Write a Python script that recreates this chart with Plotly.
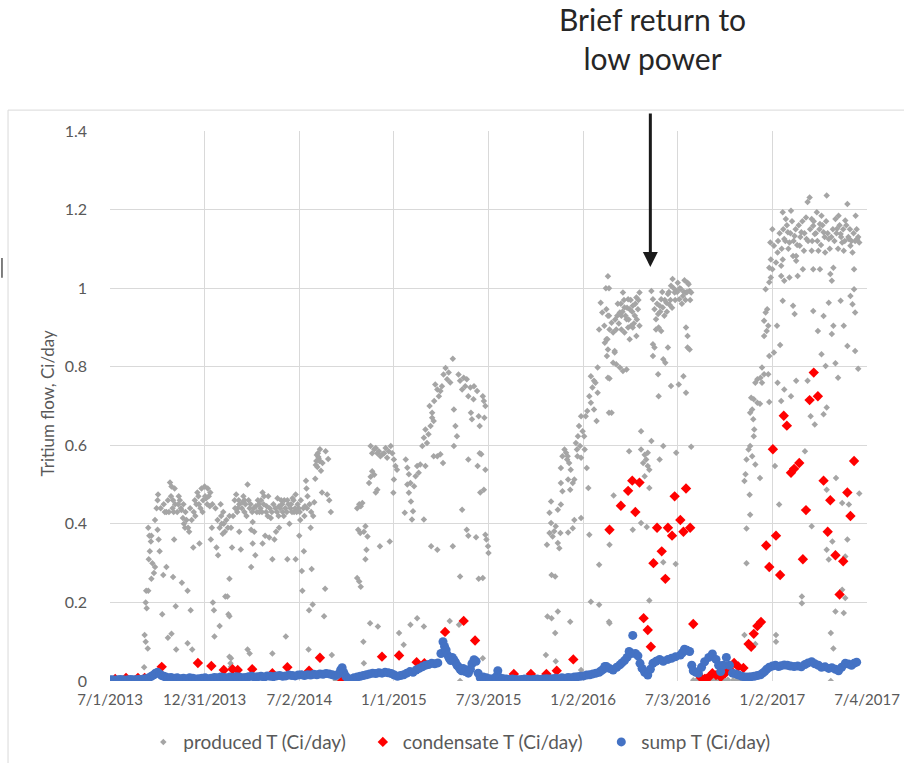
import plotly.graph_objects as go

# x values are days since 7/1/2013
tick_days = [0, 183, 366, 549, 732, 915, 1098, 1281, 1464]
tick_labels = ["7/1/2013", "12/31/2013", "7/2/2014", "1/1/2015", "7/3/2015",
               "1/2/2016", "7/3/2016", "1/2/2017", "7/4/2017"]
y_ticks = [0, 0.2, 0.4, 0.6, 0.8, 1.0, 1.2, 1.4]
y_tick_labels = ["0", "0.2", "0.4", "0.6", "0.8", "1", "1.2", "1.4"]

produced_2013 = [(66,0.035),(67,0.117),(69,0.10),(73,0.083),(69,0.20),(71,0.185),(70,0.23),(74,0.23),(75,0.31),(77,0.33),(79,0.355),(80,0.37),(74,0.39),(76,0.37),(80,0.26),(82,0.30),(85,0.275),(87,0.29),(87,0.41),(90,0.44),(92,0.46),(93,0.475),(92,0.385),(94,0.36),(96,0.33),(101,0.17),(103,0.27),(106,0.43),(109,0.43),(112,0.46),(109,0.29),(112,0.11),(116,0.505),(119,0.495),(122,0.46),(123,0.43),(125,0.49),(119,0.12),(122,0.265),(124,0.36),(127,0.19),(128,0.08),(130,0.43),(132,0.45),(135,0.46),(138,0.435),(141,0.415),(139,0.25),(143,0.40),(145,0.39),(148,0.41),(150,0.096),(150,0.23),(151,0.39),(153,0.38),(156,0.18),(159,0.08),(161,0.34),(164,0.46),(165,0.42),(169,0.48),(172,0.45),(173,0.35),(177,0.49),(180,0.46),(183,0.495),(186,0.465),(189,0.49),(193,0.445),(195,0.36),(197,0.39),(199,0.20),(201,0.18),(202,0.113),(206,0.34),(209,0.32),(212,0.39),(212,0.14),(214,0.45),(215,0.42),(218,0.375),(220,0.40),(223,0.215),(227,0.215),(229,0.17),(231,0.062),(233,0.045),(234,0.036),
                 (98,0.44),(104,0.45),(114,0.43),(118,0.47),(121,0.44),(126,0.45),(133,0.47),(137,0.44),(142,0.45),(146,0.43),(155,0.44),(158,0.41),(162,0.43),(167,0.45),(171,0.47),(175,0.44),(179,0.43),(184,0.47),(188,0.45),(191,0.47),(194,0.48),(198,0.45),(204,0.44),(208,0.41),(216,0.40),(219,0.43),(222,0.38),(225,0.41),(228,0.39)]

produced_2014 = [(231,0.26),(231,0.165),(234,0.058),(231,0.42),(234,0.39),(236,0.34),(241,0.46),(244,0.475),(247,0.44),(250,0.38),(250,0.45),(253,0.335),(257,0.455),(260,0.46),(260,0.43),(266,0.50),(266,0.08),(270,0.07),(270,0.44),(273,0.29),(273,0.385),(276,0.405),(276,0.35),(279,0.38),(281,0.32),(282,0.445),(286,0.46),(289,0.43),(292,0.46),(295,0.48),(295,0.35),(298,0.47),(300,0.37),(303,0.445),(305,0.42),(308,0.365),(311,0.415),(314,0.31),(314,0.07),(318,0.36),(321,0.38),(324,0.465),(327,0.445),(327,0.39),(331,0.46),(334,0.43),(337,0.46),(340,0.113),(343,0.31),(343,0.46),(347,0.40),(350,0.45),(353,0.465),(356,0.43),(359,0.31),(359,0.475),(363,0.45),(366,0.37),(367,0.43),(369,0.46),(371,0.28),(372,0.23),(375,0.33),(377,0.445),(379,0.51),(380,0.49),(382,0.47),(384,0.08),(385,0.18),(388,0.39),(390,0.285),(392,0.195),(395,0.455),(397,0.515),(399,0.56),(401,0.545),(403,0.57),(406,0.59),(408,0.535),(410,0.48),(411,0.555),(414,0.165),(416,0.235),(417,0.585),(420,0.475),(422,0.565),(424,0.46),(427,0.43),(429,0.066),(400,0.575),(402,0.58),(404,0.565),(398,0.55),(405,0.56),(436,0.003),(441,0.002),(446,0.004),(452,0.003),
                 (238,0.42),(242,0.44),(246,0.43),(249,0.46),(255,0.44),(258,0.47),(262,0.45),(264,0.42),(268,0.46),(272,0.45),(275,0.43),(278,0.44),(284,0.43),(288,0.45),(291,0.44),(294,0.43),(297,0.45),(302,0.43),(306,0.47),(309,0.44),(313,0.43),(316,0.45),(320,0.44),(323,0.43),(326,0.42),(329,0.44),(333,0.45),(336,0.42),(339,0.44),(342,0.43),(345,0.45),(349,0.44),(352,0.43),(355,0.46),(358,0.44),(361,0.43),(365,0.44),(368,0.41),(374,0.44),(376,0.42),(381,0.44),(386,0.45),(389,0.43),(393,0.42)]

produced_2015 = [(478,0.44),(482,0.45),(485,0.445),(488,0.453),(480,0.385),(484,0.377),(494,0.394),(498,0.368),(491,0.38),(478,0.262),(485,0.24),(482,0.253),(490,0.10),(491,0.045),(494,0.31),(496,0.334),(501,0.504),(504,0.52),(507,0.534),(511,0.525),(514,0.48),(517,0.487),(504,0.598),(507,0.58),(511,0.59),(514,0.593),(517,0.58),(520,0.585),(523,0.572),(527,0.577),(530,0.58),(533,0.593),(536,0.568),(539,0.585),(543,0.598),(546,0.58),(549,0.564),(552,0.547),(548,0.479),(549,0.513),(555,0.538),(503,0.147),(518,0.139),(522,0.343),(541,0.355),(546,0.02),(559,0.122),(559,0.07),(568,0.092),(570,0.428),(572,0.564),(575,0.543),(578,0.526),(581,0.504),(575,0.50),(578,0.479),(582,0.457),(584,0.411),(586,0.432),(588,0.496),(591,0.521),(594,0.547),(597,0.53),(600,0.551),(581,0.143),(594,0.16),(607,0.139),(604,0.598),(607,0.619),(610,0.64),(613,0.606),(616,0.628),(620,0.649),(623,0.67),(626,0.662),(618,0.70),(623,0.683),(627,0.713),(629,0.755),(633,0.742),(636,0.725),(639,0.738),(642,0.75),(645,0.78),(649,0.797),(652,0.768),(655,0.785),(658,0.76),(663,0.82),(665,0.691),(668,0.649),(671,0.623),(665,0.598),(674,0.78),(677,0.764),(681,0.742),(684,0.772),(687,0.75),(690,0.768),(693,0.725),(697,0.747),(698,0.683),(700,0.666),(703,0.717),(704,0.75),(710,0.738),(713,0.674),(715,0.649),(607,0.411),(626,0.572),(633,0.572),(639,0.577),(644,0.555),(610,0.547),(621,0.343),(633,0.334),(663,0.343),(657,0.153),(675,0.143),(681,0.436),(690,0.385),(693,0.37),(708,0.366),(693,0.564),(711,0.547),(715,0.58),(716,0.48),(677,0.266),(713,0.26),(677,0.0),(721,0.725),(723,0.713),(726,0.70),(724,0.67),(726,0.538),(723,0.487),(726,0.372),(728,0.36),(731,0.343),(732,0.326),(721,0.262),(718,0.577),(721,0.058),(740,0.005),(760,0.01),(790,0.005),(820,0.004)]

produced_2016 = [(843,0.066),(846,0.164),(854,0.16),(861,0.122),(866,0.177),(862,0.05),(854,0.27),(861,0.266),(845,0.347),(850,0.377),(853,0.402),(856,0.368),(859,0.381),(862,0.394),(866,0.351),(869,0.338),(871,0.377),(850,0.428),(853,0.457),(866,0.436),(872,0.449),(872,0.504),(875,0.483),(872,0.542),(875,0.572),(879,0.589),(882,0.581),(885,0.572),(888,0.555),(891,0.538),(884,0.564),(886,0.513),(890,0.487),(895,0.504),(898,0.513),(904,0.572),(901,0.606),(903,0.589),(905,0.623),(909,0.598),(911,0.568),(907,0.649),(911,0.674),(914,0.636),(917,0.623),(920,0.674),(923,0.687),(918,0.589),(922,0.542),(925,0.491),(911,0.415),(895,0.389),(886,0.378),(927,0.725),(930,0.708),(933,0.747),(936,0.764),(939,0.759),(943,0.798),(943,0.734),(941,0.662),(930,0.776),(936,0.691),(946,0.895),(949,0.963),(952,0.938),(956,0.904),(959,1.0),(962,0.87),(965,0.93),(957,0.861),(961,0.827),(963,0.772),(965,0.683),(927,0.372),(946,0.296),(930,0.202),(946,0.194),(965,0.151),(890,0.151),(911,0.028),(898,0.41),
                 (963,1.03),(965,1.0),(960,0.946),(963,0.93),(966,0.895),(970,0.912),(960,0.87),(963,0.844),(973,0.887),(976,0.84),(979,0.895),(982,0.96),(986,0.938),(989,0.93),(992,0.989),(995,0.951),(999,0.921),(1002,0.972),(1005,0.946),(1008,0.904),(1011,0.955),(1015,0.93),(1018,0.976),(1021,0.946),(1024,0.989),(989,0.895),(995,0.887),(1002,0.90),(1005,0.87),(1011,0.90),(1018,0.878),(1024,0.904),(973,0.81),(979,0.806),(986,0.798),(992,0.789),(999,0.793),(976,0.836),(966,0.77),(970,0.683),(974,0.472),(966,0.347),(966,0.147),(1011,0.385),(1004,0.585),(1027,0.636),(1027,0.589),(1034,0.576),(1037,0.564),(1040,0.581),(1031,0.555),(1043,0.538),(1034,0.521),(1040,0.547),(1047,0.611),(1063,0.564),(1070,0.598),(1095,0.581),(1124,0.596),(1043,0.491),(1027,0.402),(1038,0.392),(1070,0.302),(1094,0.298),(1043,0.205),(1047,0.993),(1050,0.972),(1053,0.946),(1056,0.921),(1060,0.934),(1063,0.955),(1066,0.972),(1069,0.951),(1072,0.93),(1076,0.963),(1079,0.985),(1082,0.958),(1085,1.006),(1088,1.023),(1092,0.989),(1095,0.993),(1098,1.014),(1101,0.972),(1104,0.998),(1108,0.98),(1111,1.02),(1114,0.989),(1117,1.014),(1121,0.993),(1124,0.989),(1056,0.895),(1061,0.90),(1066,0.891),(1050,0.857),(1053,0.849),(1079,0.849),(1070,0.819),(1074,0.81),(1050,0.827),(1114,0.90),(1117,0.878),(1117,0.849),(1121,0.844),(1060,0.781),(1061,0.725),(1085,0.751),(1100,0.755),(1109,0.776),(1114,0.734),
                 (977,0.92),(981,0.93),(984,0.91),(988,0.96),(991,0.94),(994,0.97),(997,0.93),(1000,0.95),(1003,0.92),(1007,0.97),(1010,0.94),(1013,0.91),(1016,0.96),(1019,0.92),(1022,0.97),
                 (1058,0.96),(1064,0.94),(1068,0.99),(1073,0.97),(1077,0.94),(1081,0.99),(1084,0.97),(1087,0.95),(1090,1.0),(1093,0.97),(1097,0.99),(1102,1.0),(1106,0.96),(1110,0.99),(1113,0.97),(1116,0.99),(1119,1.01),(1122,0.97),
                 (1128,0.002),(1135,0.003),(1142,0.002),(1150,0.003),(1158,0.002),(1165,0.003),(1172,0.002),(1180,0.003),(1188,0.002),(1195,0.003)]

produced_2017 = [(1231,0.30),(1231,0.388),(1238,0.423),(1237,0.474),(1227,0.509),(1229,0.526),(1231,0.564),(1235,0.589),(1238,0.598),(1242,0.572),(1248,0.551),(1257,0.517),(1245,0.623),(1246,0.64),(1244,0.666),(1238,0.683),(1242,0.691),(1240,0.721),(1245,0.717),(1252,0.708),(1257,0.706),(1248,0.759),(1252,0.768),(1258,0.772),(1261,0.759),(1265,0.781),(1273,0.781),(1275,0.71),(1261,0.798),(1275,0.827),(1284,0.836),(1296,0.855),(1265,0.878),(1270,0.891),(1265,0.917),(1268,0.938),(1271,0.946),(1273,0.904),(1268,0.997),(1275,1.015),(1278,1.027),(1281,1.048),(1275,1.052),(1278,1.073),(1277,1.116),(1281,1.15),(1284,1.108),(1288,1.065),(1291,1.091),(1298,1.057),(1301,1.073),(1304,1.125),(1301,1.193),(1307,1.176),(1311,1.142),(1314,1.116),(1317,1.197),(1321,1.082),(1324,1.133),(1327,1.07),(1330,1.031),(1334,1.108),(1337,1.142),(1340,1.048),(1342,1.095),(1347,1.125),(1349,1.219),(1353,1.231),(1357,1.176),(1360,1.159),(1363,1.138),(1367,1.193),(1370,1.095),(1373,1.163),(1376,1.184),(1380,1.142),(1383,1.091),(1386,1.236),(1390,1.125),(1393,1.036),(1396,1.019),(1399,1.052),(1403,1.176),(1406,1.151),(1409,1.184),(1413,1.138),(1416,1.116),(1419,1.095),(1422,1.172),(1426,1.214),(1429,1.125),(1432,1.108),(1436,1.091),(1439,0.997),(1442,1.184),(1445,1.125),(1449,1.116),(1357,1.095),(1360,1.048),(1373,1.048),(1314,1.027),(1304,1.019),(1298,1.031),(1327,1.082),(1301,0.968),(1321,0.955),(1324,0.934),(1360,0.942),(1380,0.929),(1390,0.963),(1369,0.891),(1396,0.883),(1399,0.904),(1419,0.904),(1432,0.98),(1436,0.959),(1441,0.938),(1413,0.968),(1290,0.904),(1376,0.832),(1384,0.802),(1403,0.809),(1408,0.772),(1447,0.795),(1426,0.853),(1441,0.84),(1439,1.048),(1291,0.759),(1304,0.742),(1317,0.725),(1327,0.764),(1298,0.713),(1349,0.764),(1355,0.674),(1363,0.653),(1380,0.679),(1386,0.696),(1344,0.585),(1357,0.394),(1386,0.487),(1404,0.517),(1416,0.453),(1429,0.449),(1449,0.477),(1397,0.355),(1386,0.334),(1390,0.309),(1426,0.36),(1422,0.317),(1422,0.211),(1416,0.232),(1403,0.177),(1419,0.173),(1394,0.122),(1399,0.083),(1394,0.0),(1338,0.215),(1338,0.198),(1294,0.449),(1286,0.547),(1227,0.117),(1248,0.094),(1288,0.117),(1288,0.10),(1205,0.002),(1212,0.003),(1219,0.002),
                 (1292,1.12),(1295,1.14),(1299,1.10),(1302,1.15),(1306,1.12),(1309,1.16),(1312,1.10),(1316,1.14),(1319,1.17),(1322,1.12),(1326,1.15),(1329,1.11),(1332,1.16),(1335,1.13),(1339,1.17),(1343,1.14),(1346,1.18),(1350,1.12),(1354,1.15),(1358,1.12),(1361,1.17),(1365,1.14),(1368,1.12),(1372,1.15),(1375,1.11),(1378,1.16),(1382,1.13),(1385,1.17),(1388,1.14),(1392,1.1),(1395,1.13),(1398,1.15),(1401,1.12),(1405,1.14),(1408,1.1),(1411,1.16),(1414,1.13),(1418,1.15),(1421,1.12),(1424,1.16),(1428,1.13),(1431,1.15),(1434,1.12),(1438,1.14),(1441,1.12),(1444,1.15),(1447,1.13)]

condensate = [(10,0.005),(31,0.008),(54,0.008),(67,0.008),(100,0.036),(170,0.046),(196,0.038),(220,0.028),(237,0.03),(247,0.028),(275,0.03),(314,0.02),(343,0.035),(385,0.026),(406,0.059),(449,0.0),(526,0.062),(559,0.065),(593,0.048),(608,0.045),(648,0.125),(684,0.153),(706,0.103),(781,0.018),(814,0.018),(844,0.018),(864,0.026),(896,0.055),(966,0.385),(988,0.446),(1002,0.484),(1010,0.51),(1024,0.505),(1016,0.43),(1058,0.39),(1079,0.39),(1087,0.37),(1092,0.47),(1114,0.49),(1103,0.41),(1109,0.38),(1122,0.39),(1067,0.33),(1051,0.30),(1074,0.26),(1032,0.16),(1040,0.13),(1046,0.087),(1128,0.145),(1143,0.008),(1150,0.005),(1153,0.006),(1160,0.012),(1165,0.02),(1172,0.015),(1181,0.01),(1190,0.02),(1198,0.03),(1207,0.046),(1215,0.037),(1225,0.033),(1235,0.094),(1240,0.087),(1245,0.12),(1252,0.14),(1259,0.15),(1269,0.345),(1275,0.29),(1282,0.59),(1288,0.37),(1296,0.27),(1303,0.675),(1309,0.65),(1317,0.53),(1323,0.54),(1333,0.555),(1340,0.31),(1346,0.435),(1353,0.715),(1369,0.725),(1361,0.785),(1380,0.51),(1388,0.38),(1393,0.46),(1403,0.32),(1411,0.22),(1418,0.305),(1426,0.48),(1432,0.42),(1439,0.56)]

sump = [(0,0.003),(5,0.003),(10,0.002),(15,0.003),(20,0.004),(25,0.003),(30,0.002),(35,0.003),(40,0.004),(45,0.003),(50,0.003),(55,0.004),(60,0.003),(65,0.005),(70,0.006),(75,0.008),(80,0.012),(85,0.016),(88,0.02),(92,0.022),(96,0.018),(100,0.014),(104,0.012),(108,0.01),(112,0.008),(118,0.009),(124,0.007),(130,0.008),(136,0.006),(142,0.007),(148,0.006),(154,0.008),(160,0.007),(166,0.005),(172,0.006),(178,0.007),(184,0.008),(190,0.006),(196,0.007),(202,0.009),(208,0.008),(214,0.01),(220,0.009),(226,0.008),(232,0.01),(238,0.009),(244,0.011),(250,0.01),(256,0.008),(262,0.009),(268,0.011),(274,0.012),(280,0.01),(286,0.011),(292,0.012),(298,0.01),(304,0.013),(310,0.012),(316,0.011),(322,0.013),(328,0.014),(334,0.012),(340,0.013),(346,0.015),(352,0.014),(358,0.013),(364,0.015),(370,0.016),(376,0.014),(382,0.016),(388,0.015),(394,0.017),(400,0.016),(406,0.018),(412,0.017),(418,0.019),(424,0.018),(430,0.016),(436,0.014),(442,0.018),(446,0.028),(449,0.034),(452,0.022),(456,0.012),(460,0.006),(464,0.004),(468,0.006),(472,0.008),(478,0.01),(484,0.012),(490,0.014),(496,0.016),(502,0.018),(508,0.02),(514,0.019),(520,0.021),(526,0.02),(532,0.022),(538,0.021),(544,0.019),(550,0.015),(556,0.012),(562,0.014),(568,0.016),(574,0.02),(580,0.024),(586,0.022),(592,0.028),(598,0.032),(604,0.036),(610,0.04),(616,0.042),(622,0.045),(628,0.044),(634,0.046),(640,0.07),(644,0.1),(647,0.088),(650,0.079),(653,0.066),(656,0.058),(659,0.052),(662,0.06),(665,0.054),(668,0.048),(671,0.04),(674,0.036),(677,0.03),(680,0.026),(683,0.032),(687,0.024),(690,0.028),(693,0.02),(697,0.03),(700,0.044),(704,0.054),(708,0.05),(712,0.02),(716,0.008),(722,0.01),(728,0.008),(734,0.006),(740,0.005),(746,0.01),(750,0.026),(754,0.008),(760,0.006),(766,0.005),(772,0.004),(778,0.005),(784,0.004),(790,0.003),(796,0.004),(802,0.005),(808,0.004),(814,0.003),(820,0.004),(826,0.005),(832,0.004),(838,0.005),(844,0.006),(850,0.005),(856,0.006),(862,0.007),(868,0.006),(874,0.008),(880,0.007),(886,0.009),(892,0.008),(898,0.01),(904,0.011),(910,0.012),(916,0.013),(922,0.015),(928,0.016),(934,0.018),(940,0.02),(946,0.022),(950,0.026),(954,0.03),(957,0.037),(960,0.037),(966,0.032),(973,0.028),(980,0.035),(986,0.041),(990,0.046),(995,0.052),(1000,0.06),(1004,0.075),(1008,0.07),(1011,0.116),(1016,0.07),(1021,0.064),(1025,0.045),(1029,0.032),(1034,0.022),(1040,0.015),(1045,0.03),(1050,0.045),(1056,0.05),(1063,0.055),(1070,0.05),(1079,0.055),(1086,0.058),(1094,0.062),(1103,0.066),(1107,0.072),(1111,0.081),(1116,0.078),(1121,0.075),(1125,0.04),(1128,0.026),(1133,0.022),(1138,0.02),(1144,0.035),(1150,0.049),(1158,0.06),(1165,0.069),(1172,0.055),(1177,0.04),(1181,0.024),(1186,0.04),(1192,0.06),(1198,0.04),(1204,0.02),(1210,0.018),(1216,0.015),(1222,0.012),(1228,0.01),(1234,0.01),(1240,0.011),(1246,0.012),(1252,0.014),(1258,0.016),(1262,0.02),(1266,0.024),(1270,0.03),(1275,0.035),(1281,0.038),(1287,0.04),(1293,0.037),(1298,0.039),(1304,0.041),(1310,0.04),(1316,0.038),(1323,0.037),(1330,0.038),(1337,0.036),(1344,0.042),(1350,0.046),(1357,0.049),(1363,0.044),(1370,0.04),(1376,0.035),(1383,0.036),(1390,0.032),(1396,0.034),(1403,0.03),(1409,0.026),(1415,0.035),(1422,0.045),(1428,0.043),(1434,0.04),(1439,0.045),(1444,0.048)]

produced = produced_2013 + produced_2014 + produced_2015 + produced_2016 + produced_2017

FONT = "Lato"
TXT = "#595959"

fig = go.Figure()
fig.add_trace(go.Scatter(
    x=[p[0] for p in produced], y=[p[1] for p in produced], mode="markers",
    name="produced T (Ci/day)", legend="legend",
    marker=dict(symbol="diamond", size=5, color="#a5a5a5", line=dict(width=0))))
fig.add_trace(go.Scatter(
    x=[p[0] for p in condensate], y=[p[1] for p in condensate], mode="markers",
    name="condensate T (Ci/day)", legend="legend2",
    marker=dict(symbol="diamond", size=8, color="#ff0000", line=dict(width=0))))
fig.add_trace(go.Scatter(
    x=[p[0] for p in sump], y=[p[1] for p in sump], mode="markers",
    name="sump T (Ci/day)", legend="legend3",
    marker=dict(symbol="circle", size=9, color="#4472c4", line=dict(width=0))))

leg_common = dict(orientation="h", xanchor="left", y=-0.111, yanchor="middle",
                  font=dict(size=19, color=TXT, family=FONT), itemsizing="trace",
                  bgcolor="rgba(0,0,0,0)", itemwidth=30)

fig.update_layout(
    width=904, height=763,
    margin=dict(l=110, r=37, t=131, b=82, autoexpand=False),
    paper_bgcolor="white", plot_bgcolor="white",
    font=dict(family=FONT, color=TXT, size=15),
    showlegend=True,
    legend=dict(x=0.044, **leg_common),
    legend2=dict(x=0.334, **leg_common),
    legend3=dict(x=0.649, **leg_common),
    xaxis=dict(range=[0, 1464], tickmode="array", tickvals=tick_days, ticktext=tick_labels,
               showgrid=True, gridcolor="#d9d9d9", gridwidth=1, zeroline=False,
               showline=False, ticks="", tickfont=dict(size=15, color=TXT, family=FONT),
               ticklabelstandoff=8, automargin=False),
    yaxis=dict(range=[0, 1.4], tickmode="array", tickvals=y_ticks, ticktext=y_tick_labels,
               showgrid=True, gridcolor="#d9d9d9", gridwidth=1, zeroline=False,
               showline=False, ticks="", tickfont=dict(size=16, color=TXT, family=FONT),
               ticklabelstandoff=22, automargin=False),
)

# y axis title
fig.add_annotation(xref="paper", yref="paper", x=-0.083, y=0.505, text="Tritium flow, Ci/day",
                   textangle=-90, showarrow=False, xanchor="center", yanchor="middle",
                   font=dict(size=17, color=TXT, family=FONT))
# callout text
fig.add_annotation(xref="paper", yref="paper", x=0.716, y=1.168,
                   text="Brief return to<br>low power", showarrow=False,
                   xanchor="center", yanchor="middle",
                   font=dict(size=30, color="#262626", family=FONT))
# arrow
fig.add_annotation(x=1045, y=1.054, xref="x", yref="y", ax=0, ay=-155, text="",
                   showarrow=True, arrowhead=2, arrowsize=1, arrowwidth=3, arrowcolor="#1a1a1a")

# chart frame
fig.add_shape(type="rect", xref="paper", yref="paper", x0=-0.1347, x1=1.1, y0=-0.2, y1=1.038,
              line=dict(color="#d9d9d9", width=1), fillcolor="rgba(0,0,0,0)", layer="below")
fig.add_shape(type="line", xref="paper", yref="paper", x0=-0.1427, x1=-0.1427, y0=0.733, y1=0.769,
              line=dict(color="#555555", width=1.5))

fig.write_html("out.html")
